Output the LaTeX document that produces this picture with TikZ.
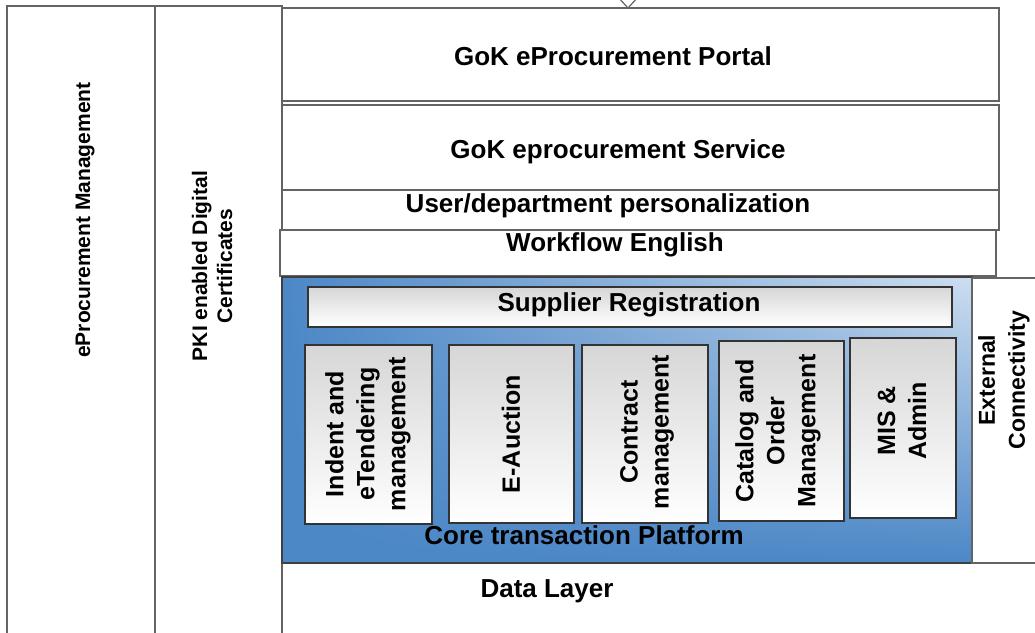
\documentclass[tikz,border=0pt]{standalone}
\usepackage{fontspec}
\setmainfont{Liberation Sans}
\usetikzlibrary{calc,positioning,shadings}
\definecolor{coreblue}{RGB}{76,135,198}
\definecolor{corelight}{RGB}{205,222,240}
\definecolor{edgegray}{RGB}{100,100,100}

\begin{document}
\begin{tikzpicture}[x=1pt,y=-1pt,
  layer/.style={draw=edgegray, line width=1.6pt, fill=white},
  module/.style={draw=black!80, line width=1.3pt, top color=black!16, bottom color=white},
  bigtext/.style={font=\fontsize{26}{31}\selectfont\bfseries, inner sep=0pt},
  modtext/.style={font=\fontsize{25}{31}\selectfont\bfseries, rotate=90, align=center, inner sep=0pt},
  sidetext/.style={font=\fontsize{21}{25}\selectfont\bfseries, rotate=90, align=center, inner sep=0pt}]
\useasboundingbox (0,0) rectangle (1035,632);

% side columns
\draw[layer] (7,6) rectangle (155,640); \node[sidetext] (mgmt) at (85,220) {eProcurement Management};
\draw[layer] (155,6) rectangle (282,640); \node[sidetext] (pki) at (212,266) {PKI enabled Digital\\Certificates};

% upper layers
\draw[edgegray, line width=1.2pt, fill=white] (617,-4) -- (628,8) -- (639,-4);
\draw[layer] (282,8) rectangle (999,101); \node[bigtext] (portal) at (613,56) {GoK eProcurement Portal};
\draw[layer] (282,105) rectangle (999,190); \node[bigtext] (service) at (618,152) {GoK eprocurement Service};
\draw[layer] (282,190) rectangle (999,230); \node[bigtext] (user) at (608,206) {User/department personalization};
\draw[layer] (280,230) rectangle (996,276); \node[bigtext] (workflow) at (615,245) {Workflow English};

% core platform
\shade[upper left=coreblue, lower left=coreblue, lower right=coreblue, upper right=corelight] (282,277) rectangle (972,563);
\draw[black!75, line width=1.6pt] (282,277) rectangle (972,563);
\draw[module] (308,287) rectangle (952,327); \node[bigtext] (supplier) at (629,305) {Supplier Registration};

\draw[module] (305,345) rectangle (432,524); \node[modtext] (indent) at (368,434) {Indent and\\eTendering\\management};
\draw[module] (449,345) rectangle (574,523); \node[modtext] (auction) at (511,434) {E-Auction};
\draw[module] (582,345) rectangle (708,523); \node[modtext] (contract) at (647,432) {Contract\\management};
\draw[module] (719,341) rectangle (844,521); \node[modtext] (catalog) at (778,431) {Catalog and\\Order\\Management};
\draw[module] (850,338) rectangle (956,518); \node[modtext] (mis) at (902,421) {MIS \&\\Admin};
\node[bigtext] (core) at (584,535) {Core transaction Platform};

% side and bottom
\draw[layer] (972,278) rectangle (1045,563); \node[modtext, font=\fontsize{23}{30}\selectfont\bfseries] (extconn) at (1004,380) {External\\Connectivity};
\draw[edgegray, line width=1.6pt] (972,563) -- (1035,563);
\node[bigtext] (data) at (547,591) {Data Layer};

\end{tikzpicture}
\end{document}
